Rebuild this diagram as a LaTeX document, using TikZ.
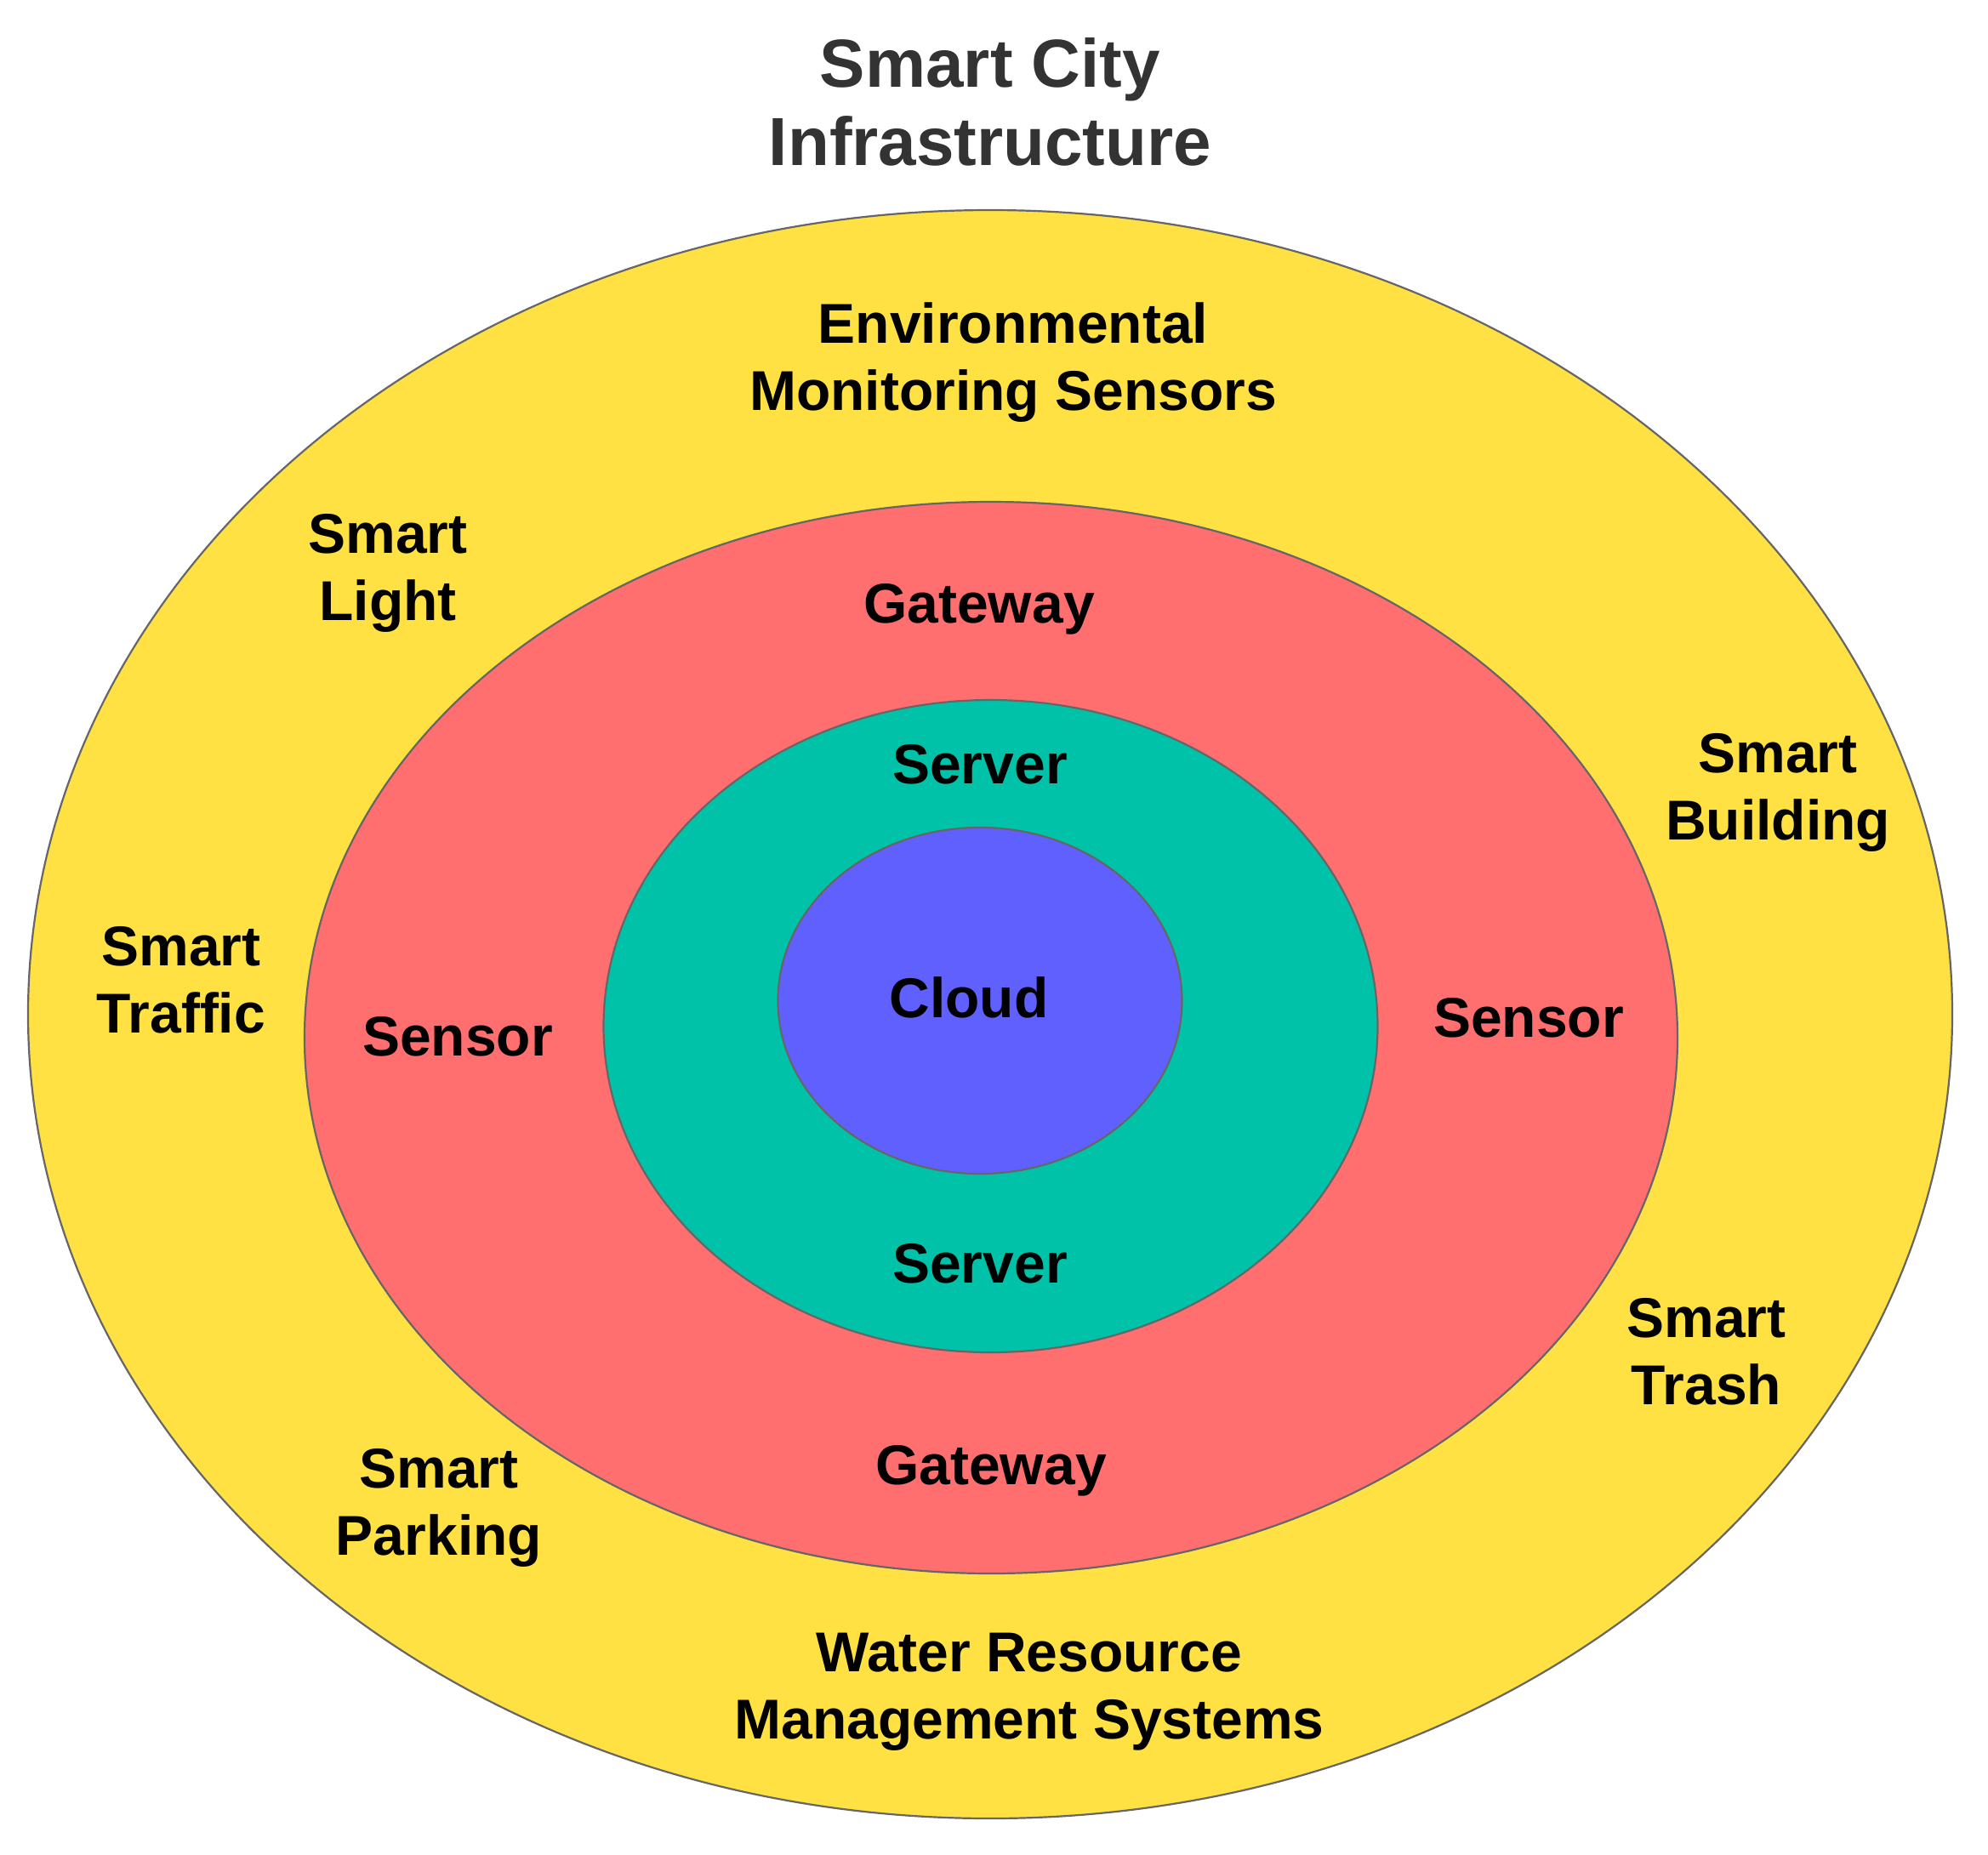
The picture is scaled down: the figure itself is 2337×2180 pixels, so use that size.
\documentclass[tikz,border=0pt]{standalone}
\usepackage{fontspec}
\setmainfont{Liberation Sans}
\usetikzlibrary{shapes.geometric}
\definecolor{ringY}{HTML}{FFE144}
\definecolor{ringR}{HTML}{FF6F6F}
\definecolor{ringG}{HTML}{00C2A8}
\definecolor{ringB}{HTML}{6060FF}
\definecolor{edgegray}{HTML}{666666}
\definecolor{titlegray}{HTML}{333333}
\tikzset{
  ring/.style={ellipse, draw=edgegray, line width=2.2pt, inner sep=0pt},
  lbl/.style={align=center, font=\bfseries\fontsize{66}{79}\selectfont, text=black, inner sep=0pt},
  ttl/.style={align=center, font=\bfseries\fontsize{80}{92}\selectfont, text=titlegray, inner sep=0pt}
}
\begin{document}
\begin{tikzpicture}[x=1pt,y=-1pt]
\useasboundingbox (0,0) rectangle (2337,2180);
\node[ring, fill=ringY, minimum width=2262pt, minimum height=1891pt] (outer) at (1164,1192.5) {};
\node[ring, fill=ringR, minimum width=1614pt, minimum height=1260pt] (mid) at (1165,1220) {};
\node[ring, fill=ringG, minimum width=910pt, minimum height=767pt] (inner) at (1164.5,1206.5) {};
\node[ring, fill=ringB, minimum width=475pt, minimum height=407pt] (core) at (1152,1176.5) {};

\node[ttl] (title) at (1164,120) {Smart City\\Infrastructure};

\node[lbl] (env) at (1191,426) {Environmental\\Monitoring Sensors};
\node[lbl] (light) at (456,674) {Smart\\Light};
\node[lbl] (gwtop) at (1151,716) {Gateway};
\node[lbl] (building) at (2090,932) {Smart\\Building};
\node[lbl] (srvtop) at (1152,899) {Server};
\node[lbl] (traffic) at (213,1152) {Smart\\Traffic};
\node[lbl] (sensL) at (538,1219) {Sensor};
\node[lbl] (cloud) at (1139,1173) {Cloud};
\node[lbl] (sensR) at (1797,1197) {Sensor};
\node[lbl] (srvbot) at (1152,1486) {Server};
\node[lbl] (trash) at (2006,1589) {Smart\\Trash};
\node[lbl] (parking) at (516,1773) {Smart\\Parking};
\node[lbl] (gwbot) at (1165,1729) {Gateway};
\node[lbl] (water) at (1210,1989) {Water Resource\\Management Systems};
\end{tikzpicture}
\end{document}
